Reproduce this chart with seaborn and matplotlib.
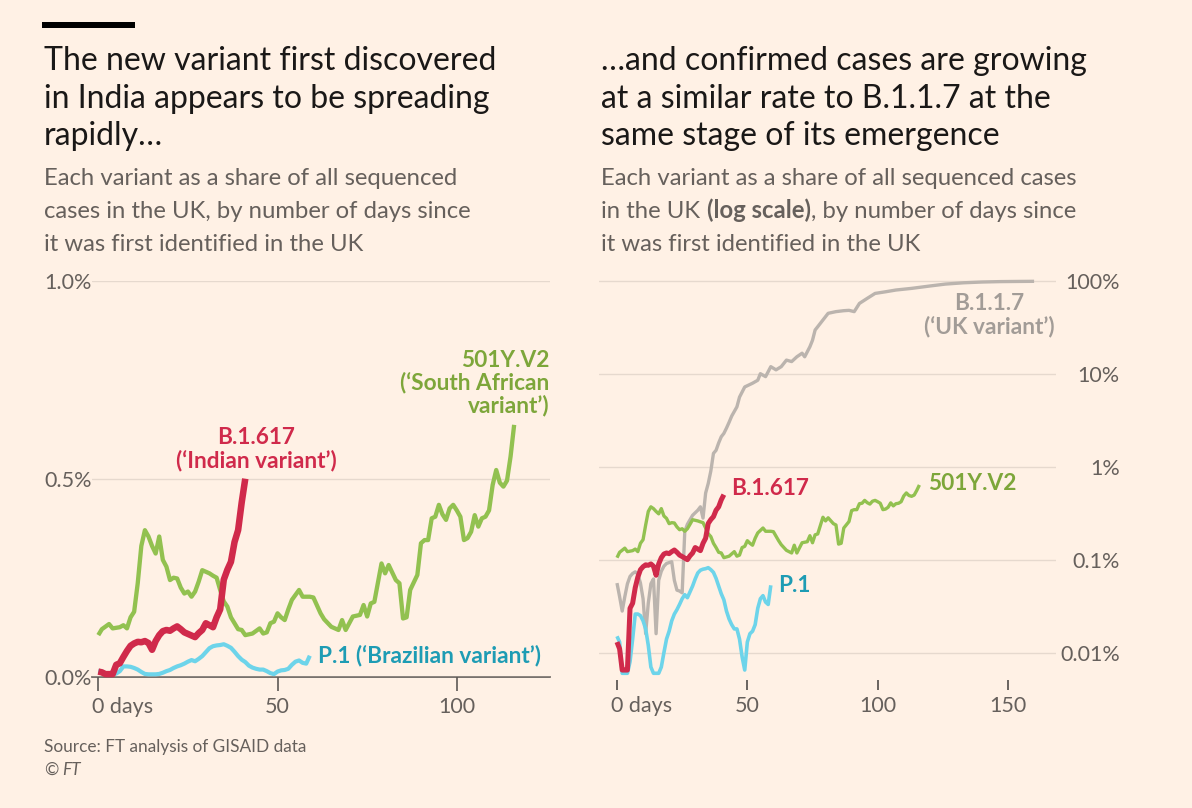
import matplotlib
matplotlib.use("Agg")
import matplotlib.pyplot as plt
import numpy as np
import seaborn as sns
from matplotlib.patches import Rectangle
from matplotlib.transforms import ScaledTranslation

# ---------------- data (share of sequenced cases, %) ----------------
red_days = list(range(0, 42))
red_share = [0.013, 0.011, 0.0065, 0.0065, 0.0065, 0.03, 0.034, 0.05, 0.065, 0.078,
             0.084, 0.088, 0.087, 0.09, 0.085, 0.068, 0.09, 0.105, 0.115, 0.118,
             0.116, 0.122, 0.127, 0.12, 0.112, 0.108, 0.104, 0.1, 0.11, 0.118,
             0.135, 0.13, 0.125, 0.15, 0.17, 0.245, 0.27, 0.29, 0.34, 0.37,
             0.44, 0.5]

p1_days = list(range(0, 60))
p1_share = [0.015, 0.013, 0.006, 0.006, 0.006, 0.008, 0.014, 0.026, 0.026, 0.025,
            0.022, 0.018, 0.012, 0.007, 0.006, 0.006, 0.006, 0.007, 0.01, 0.014,
            0.017, 0.022, 0.026, 0.029, 0.033, 0.038, 0.042, 0.039, 0.045, 0.052,
            0.062, 0.072, 0.077, 0.079, 0.08, 0.082, 0.078, 0.073, 0.063, 0.052,
            0.043, 0.037, 0.028, 0.023, 0.02, 0.018, 0.018, 0.014, 0.009, 0.0065,
            0.013, 0.016, 0.017, 0.02, 0.03, 0.038, 0.041, 0.035, 0.033, 0.053]

sa_days = [0, 1, 3, 4, 6, 7, 8, 9, 10, 11, 12, 13, 14, 15, 16, 17, 18, 19, 20, 21,
           22, 23, 24, 25, 26, 27, 28, 29, 30, 31, 32, 33, 34, 35, 36, 37, 38, 39, 40, 41,
           43, 45, 46, 47, 48, 49, 50, 51, 52, 53, 54, 56, 57, 59, 60, 62, 63, 65, 67, 68,
           69, 71, 73, 74, 75, 76, 77, 79, 80, 81, 83, 84, 85, 86, 87, 89, 90, 91, 92, 93,
           94, 95, 96, 97, 98, 99, 100, 101, 102, 103, 104, 105, 106, 107, 108, 109, 110, 111,
           112, 113, 114, 115, 116]
sa_share = [0.105, 0.12, 0.133, 0.122, 0.125, 0.13, 0.122, 0.15, 0.164, 0.236,
            0.33, 0.37, 0.354, 0.33, 0.311, 0.354, 0.295, 0.278, 0.244, 0.25,
            0.248, 0.225, 0.21, 0.215, 0.202, 0.215, 0.24, 0.269, 0.265, 0.261,
            0.255, 0.25, 0.219, 0.19, 0.177, 0.15, 0.135, 0.12, 0.118, 0.105,
            0.109, 0.122, 0.109, 0.112, 0.135, 0.139, 0.16, 0.15, 0.143, 0.17,
            0.194, 0.219, 0.202, 0.202, 0.2, 0.16, 0.145, 0.126, 0.118, 0.143,
            0.118, 0.152, 0.156, 0.181, 0.152, 0.185, 0.189, 0.286, 0.261, 0.282,
            0.244, 0.236, 0.147, 0.15, 0.219, 0.257, 0.337, 0.345, 0.345, 0.4,
            0.404, 0.434, 0.41, 0.396, 0.425, 0.434, 0.42, 0.404, 0.345, 0.35,
            0.366, 0.408, 0.379, 0.4, 0.404, 0.42, 0.484, 0.522, 0.49, 0.48,
            0.495, 0.556, 0.636]

uk_days = [0, 1, 2, 3, 4, 5, 6, 7, 8, 9, 10, 11, 12, 13, 14, 15, 16, 17, 18, 19,
           21, 22, 23, 24, 25, 26, 27, 29, 31, 32, 33, 34, 35, 36, 37, 38, 39, 40, 41, 42,
           43, 44, 46, 47, 49, 52, 54, 55, 57, 59, 61, 63, 65, 67, 69, 71, 72, 74, 75, 76,
           77, 79, 81, 84, 87, 89, 91, 93, 96, 99, 103, 107, 113, 120, 126, 133, 140, 147,
           154, 160]
uk_share = [0.056, 0.04, 0.028, 0.04, 0.055, 0.066, 0.071, 0.074, 0.07, 0.056,
            0.038, 0.016, 0.034, 0.055, 0.062, 0.016, 0.06, 0.075, 0.085, 0.091,
            0.095, 0.06, 0.047, 0.046, 0.044, 0.2, 0.24, 0.3, 0.34, 0.37,
            0.28, 0.52, 0.66, 0.9, 1.39, 1.5, 1.8, 2.1, 2.28, 2.6,
            3.0, 3.5, 4.4, 5.6, 7.2, 7.9, 8.5, 10.0, 9.3, 11.9,
            11.0, 11.9, 14.0, 13.5, 15.2, 16.6, 15.2, 19.5, 22.9, 29.5,
            32.0, 37.8, 44.6, 46.5, 47.6, 48.0, 46.5, 57.0, 64.6, 73.0,
            76.0, 79.4, 82.7, 87.7, 92.0, 95.0, 96.8, 97.8, 98.2, 98.5]

lin_ticks = [0, 0.5, 1.0]
lin_labels = ["0.0%", "0.5%", "1.0%"]
log_ticks = [0.01, 0.1, 1, 10, 100]
log_labels = ["0.01%", "0.1%", "1%", "10%", "100%"]
left_xticks = [0, 50, 100]
right_xticks = [0, 50, 100, 150]

# ---------------- style ----------------
BG = "#FFF1E5"
GRID = "#E6D9CE"
GREYTXT = "#66605C"
RED = "#D02A4B"
GREEN = "#92C150"
GREEN_T = "#7DA63A"
CYAN = "#6DD4EA"
CYAN_T = "#1E9CB4"
GREY = "#BBB4AE"
GREY_T = "#A29C97"

sns.set_theme(style="white", rc={"axes.facecolor": BG, "figure.facecolor": BG,
                                 "savefig.facecolor": BG})
plt.rcParams["font.family"] = ["Lato", "DejaVu Sans"]

W, H = 1192, 808
fig = plt.figure(figsize=(W / 100, H / 100), dpi=100)

TICKFS = 15.5
LABFS = 16.3

# ---------------- left panel (linear) ----------------
axL = fig.add_axes([91.7 / W, 1 - 676.7 / H, (550 - 91.7) / W, (676.7 - 280.7) / H])
axL.set_facecolor(BG)
for d, v, c, lw in [(p1_days, p1_share, CYAN, 3.0),
                    (sa_days, sa_share, GREEN, 3.1),
                    (red_days, red_share, RED, 4.7)]:
    sns.lineplot(x=d, y=v, ax=axL, color=c, linewidth=lw, estimator=None,
                 errorbar=None, solid_joinstyle="round", solid_capstyle="butt",
                 clip_on=False)
axL.set_xlim(-1.84, 126)
axL.set_ylim(0, 1.0)
axL.set_xlabel("")
axL.set_ylabel("")
axL.set_yticks(lin_ticks)
axL.set_yticklabels(lin_labels)
axL.set_xticks(left_xticks)
axL.set_xticklabels(["0 days"] + [str(t) for t in left_xticks[1:]])
axL.grid(axis="y", color=GRID, linewidth=1.0)
axL.grid(axis="x", visible=False)
for s in ["top", "right", "left"]:
    axL.spines[s].set_visible(False)
axL.spines["bottom"].set_color("#5E5955")
axL.spines["bottom"].set_linewidth(1.2)
axL.spines["bottom"].set_zorder(0.5)
axL.tick_params(axis="y", length=0, pad=34.3, labelsize=TICKFS, labelcolor=GREYTXT)
axL.tick_params(axis="x", bottom=True, length=10, width=1.2, color="#5E5955",
                direction="out", pad=4.5, labelsize=TICKFS, labelcolor=GREYTXT)
for lab in axL.get_yticklabels():
    lab.set_horizontalalignment("left")
first = axL.get_xticklabels()[0]
first.set_horizontalalignment("left")
first.set_transform(first.get_transform() + ScaledTranslation(-4.6 / 72, 0, fig.dpi_scale_trans))

lab_kw = dict(textcoords="offset points", fontsize=LABFS, fontweight="bold",
              linespacing=1.08, annotation_clip=False)
axL.annotate("B.1.617\n(‘Indian variant’)", xy=(red_days[-1], red_share[-1]),
             xytext=(8, 21.5), ha="center", va="center", color=RED, **lab_kw)
axL.annotate("501Y.V2\n(‘South African\nvariant’)", xy=(sa_days[-1], sa_share[-1]),
             xytext=(25.5, 30), ha="right", va="center", color=GREEN_T, **lab_kw)
axL.annotate("P.1 (‘Brazilian variant’)", xy=(p1_days[-1], p1_share[-1]),
             xytext=(6, 0), ha="left", va="center", color=CYAN_T, **lab_kw)

# ---------------- right panel (log) ----------------
axR = fig.add_axes([599 / W, 1 - 680 / H, (1056 - 599) / W, (680 - 277.6) / H])
axR.set_facecolor(BG)
for d, v, c, lw in [(uk_days, uk_share, GREY, 2.4),
                    (p1_days, p1_share, CYAN, 2.6),
                    (sa_days, sa_share, GREEN, 2.4),
                    (red_days, red_share, RED, 3.6)]:
    sns.lineplot(x=d, y=v, ax=axR, color=c, linewidth=lw, estimator=None,
                 errorbar=None, solid_joinstyle="round", solid_capstyle="butt")
axR.set_yscale("log")
axR.set_xlim(-6.9, 168.4)
axR.set_ylim(0.00508, 108)
axR.set_xlabel("")
axR.set_ylabel("")
axR.set_yticks(log_ticks)
axR.set_yticklabels(log_labels)
axR.yaxis.set_minor_locator(matplotlib.ticker.NullLocator())
axR.set_xticks(right_xticks)
axR.set_xticklabels(["0 days"] + [str(t) for t in right_xticks[1:]])
axR.yaxis.tick_right()
axR.grid(axis="y", which="major", color=GRID, linewidth=1.0)
axR.grid(axis="x", visible=False)
for s in ["top", "right", "left", "bottom"]:
    axR.spines[s].set_visible(False)
axR.tick_params(axis="y", length=0, pad=46, labelsize=TICKFS, labelcolor=GREYTXT,
                right=False, left=False, labelright=True, labelleft=False)
axR.tick_params(axis="x", bottom=True, length=7.2, width=1.3, color="#5E5955",
                direction="out", pad=4, labelsize=TICKFS, labelcolor=GREYTXT)
for lab in axR.get_yticklabels():
    lab.set_horizontalalignment("right")
firstR = axR.get_xticklabels()[0]
firstR.set_horizontalalignment("left")
firstR.set_transform(firstR.get_transform() + ScaledTranslation(-4.6 / 72, 0, fig.dpi_scale_trans))

axR.annotate("B.1.1.7\n(‘UK variant’)", xy=(uk_days[-1], uk_share[-1]),
             xytext=(-32.4, -24.3), ha="center", va="center", color=GREY_T, **lab_kw)
axR.annotate("B.1.617", xy=(red_days[-1], red_share[-1]),
             xytext=(5, 4.8), ha="left", va="center", color=RED, **lab_kw)
axR.annotate("501Y.V2", xy=(sa_days[-1], sa_share[-1]),
             xytext=(6, 1.4), ha="left", va="center", color=GREEN_T, **lab_kw)
axR.annotate("P.1", xy=(p1_days[-1], p1_share[-1]),
             xytext=(5, 0), ha="left", va="center", color=CYAN_T, **lab_kw)

# ---------------- titles ----------------
fig.add_artist(Rectangle((42 / W, 1 - 28 / H), 93 / W, 6 / H, transform=fig.transFigure,
                         facecolor="#000000", edgecolor="none"))

TS = 23
SS = 17.2
title_l = ["The new variant first discovered", "in India appears to be spreading", "rapidly…"]
title_r = ["…and confirmed cases are growing", "at a similar rate to B.1.1.7 at the",
           "same stage of its emergence"]
for i, y in enumerate([70, 108, 145]):
    fig.text(44 / W, 1 - y / H, title_l[i], fontsize=TS, color="#1A1817", va="baseline")
    fig.text(601 / W, 1 - y / H, title_r[i], fontsize=TS, color="#1A1817", va="baseline")

sub_l = ["Each variant as a share of all sequenced", "cases in the UK, by number of days since",
         "it was first identified in the UK"]
for i, y in enumerate([185, 218, 251]):
    fig.text(44 / W, 1 - y / H, sub_l[i], fontsize=SS, color=GREYTXT, va="baseline")

fig.text(601 / W, 1 - 185 / H, "Each variant as a share of all sequenced cases",
         fontsize=SS, color=GREYTXT, va="baseline")
t1 = fig.text(601 / W, 1 - 218 / H, "in the UK", fontsize=SS, color=GREYTXT, va="baseline")
t2 = axR.annotate("(log scale)", xy=(1, 0), xycoords=t1, xytext=(4.6, 0),
                  textcoords="offset points", fontsize=SS, color=GREYTXT,
                  fontweight="bold", ha="left", va="bottom", annotation_clip=False)
axR.annotate(", by number of days since", xy=(1, 0), xycoords=t2, xytext=(0, 0),
             textcoords="offset points", fontsize=SS, color=GREYTXT,
             ha="left", va="bottom", annotation_clip=False)
fig.text(601 / W, 1 - 251 / H, "it was first identified in the UK",
         fontsize=SS, color=GREYTXT, va="baseline")

# ---------------- source ----------------
fig.text(44 / W, 1 - 752 / H, "Source: FT analysis of GISAID data", fontsize=12.4,
         color=GREYTXT, va="baseline")
c1 = fig.text(44 / W, 1 - 775 / H, "©", fontsize=12.4, color=GREYTXT, va="baseline")
axR.annotate("FT", xy=(1, 0), xycoords=c1, xytext=(2.5, 0), textcoords="offset points",
             fontsize=12.4, color=GREYTXT, style="italic", ha="left", va="bottom",
             annotation_clip=False)

fig.savefig("out.png", dpi=100, facecolor=BG)
